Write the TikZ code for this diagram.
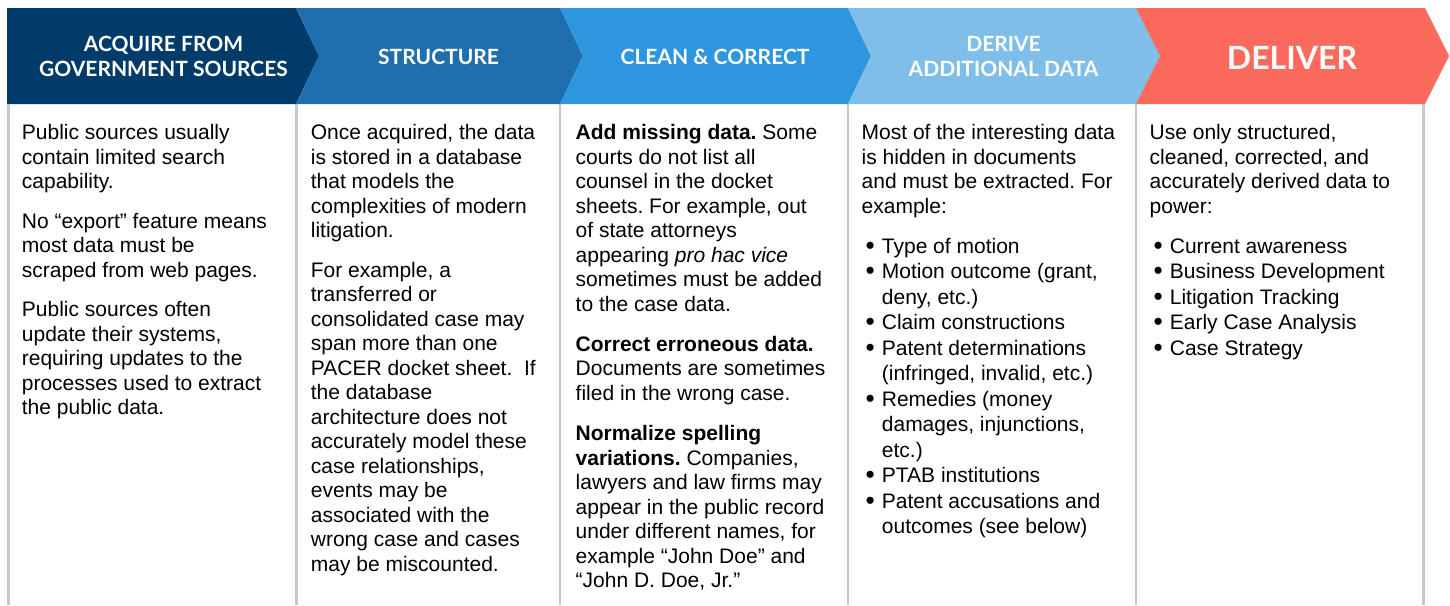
\documentclass[tikz,border=0pt]{standalone}
\usepackage{fontspec}
\usepackage{graphicx}
\setmainfont{Liberation Sans}
\newfontfamily\latofont{Lato}
\frenchspacing
\definecolor{cAcq}{HTML}{003B69}
\definecolor{cStr}{HTML}{1F6FAE}
\definecolor{cCln}{HTML}{2E96DE}
\definecolor{cDer}{HTML}{80BEEA}
\definecolor{cDel}{HTML}{FB6A5D}
\definecolor{sepgray}{HTML}{C8C8C8}
\renewcommand{\arraystretch}{1.04}
\newcommand{\firstline}{\rule{0pt}{17pt}}
\newcommand{\bul}{\raisebox{-0.8pt}{\scalebox{1.25}{\textbullet}}}
\tikzset{
  hdr/.style={text=white, inner sep=0, align=center,
    font=\latofont\bfseries\fontsize{21}{25}\selectfont},
  hdrbig/.style={hdr, font=\latofont\bfseries\fontsize{32}{36}\selectfont},
  body/.style={anchor=north west, inner sep=0, align=left, text=black,
    font=\fontsize{21}{24.5}\selectfont},
  sepline/.style={draw=sepgray, line width=2.6pt},
}
\begin{document}
\begin{tikzpicture}[x=1pt, y=-1pt]
\useasboundingbox (0,0) rectangle (1450,605);
% header chevrons
\fill[cAcq] (7,8) -- (296,8) -- (319,56) -- (296,104) -- (7,104) -- cycle;
\fill[cStr] (296,8) -- (560,8) -- (583,56) -- (560,104) -- (296,104) -- (319,56) -- cycle;
\fill[cCln] (560,8) -- (848,8) -- (871,56) -- (848,104) -- (560,104) -- (583,56) -- cycle;
\fill[cDer] (848,8) -- (1136,8) -- (1160,56) -- (1136,104) -- (848,104) -- (871,56) -- cycle;
\fill[cDel] (1136,8) -- (1425,8) -- (1449,56) -- (1425,104) -- (1136,104) -- (1160,56) -- cycle;
% column separators
\foreach \xx in {8.5,296.5,560,848,1136,1423.5}
  \draw[sepline] (\xx,104) -- (\xx,605);
% header labels
\node[hdr] (h1) at (163.5,56.5) {ACQUIRE FROM\\GOVERNMENT SOURCES};
\node[hdr] (h2) at (438.5,56.5) {STRUCTURE};
\node[hdr] (h3) at (715,56.5) {CLEAN \& CORRECT};
\node[hdr] (h4) at (1003.5,56.5) {DERIVE\\ADDITIONAL DATA};
\node[hdrbig] (h5) at (1292,57.5) {DELIVER};
% column 1
\node[body] (c1) at (21.7,122.3) {\firstline Public sources usually\\
contain limited search\\
capability.\\[15pt]
No “export” feature means\\
most data must be\\
scraped from web pages.\\[15pt]
Public sources often\\
update their systems,\\
requiring updates to the\\
processes used to extract\\
the public data.};
% column 2
\node[body] (c2) at (310.7,122.3) {\firstline Once acquired, the data\\
is stored in a database\\
that models the\\
complexities of modern\\
litigation.\\[15pt]
For example, a\\
transferred or\\
consolidated case may\\
span more than one\\
PACER docket sheet.\ \ If\\
the database\\
architecture does not\\
accurately model these\\
case relationships,\\
events may be\\
associated with the\\
wrong case and cases\\
may be miscounted.};
% column 3
\node[body] (c3) at (575.5,122.3) {\firstline\textbf{Add missing data.} Some\\
courts do not list all\\
counsel in the docket\\
sheets. For example, out\\
of state attorneys\\
appearing \textit{pro hac vice}\\
sometimes must be added\\
to the case data.\\[15.5pt]
\textbf{Correct erroneous data.}\\
Documents are sometimes\\
filed in the wrong case.\\[16pt]
\textbf{Normalize spelling}\\
\textbf{variations.} Companies,\\
lawyers and law firms may\\
appear in the public record\\
under different names, for\\
example “John Doe” and\\
“John D. Doe, Jr.”};
% column 4
\node[body] (c4) at (861.5,122.3) {\firstline Most of the interesting data\\
is hidden in documents\\
and must be extracted. For\\
example:\\[16pt]
\begin{tabular}[t]{@{\hspace{4pt}}l@{\hspace{7pt}}l@{}}
\bul & Type of motion\\
\bul & Motion outcome (grant,\\
 & deny, etc.)\\
\bul & Claim constructions\\
\bul & Patent determinations\\
 & (infringed, invalid, etc.)\\
\bul & Remedies (money\\
 & damages, injunctions,\\
 & etc.)\\
\bul & PTAB institutions\\
\bul & Patent accusations and\\
 & outcomes (see below)
\end{tabular}};
% column 5
\node[body] (c5) at (1149.5,122.3) {\firstline Use only structured,\\
cleaned, corrected, and\\
accurately derived data to\\
power:\\[16pt]
\begin{tabular}[t]{@{\hspace{4pt}}l@{\hspace{7pt}}l@{}}
\bul & Current awareness\\
\bul & Business Development\\
\bul & Litigation Tracking\\
\bul & Early Case Analysis\\
\bul & Case Strategy
\end{tabular}};
\end{tikzpicture}
\end{document}
